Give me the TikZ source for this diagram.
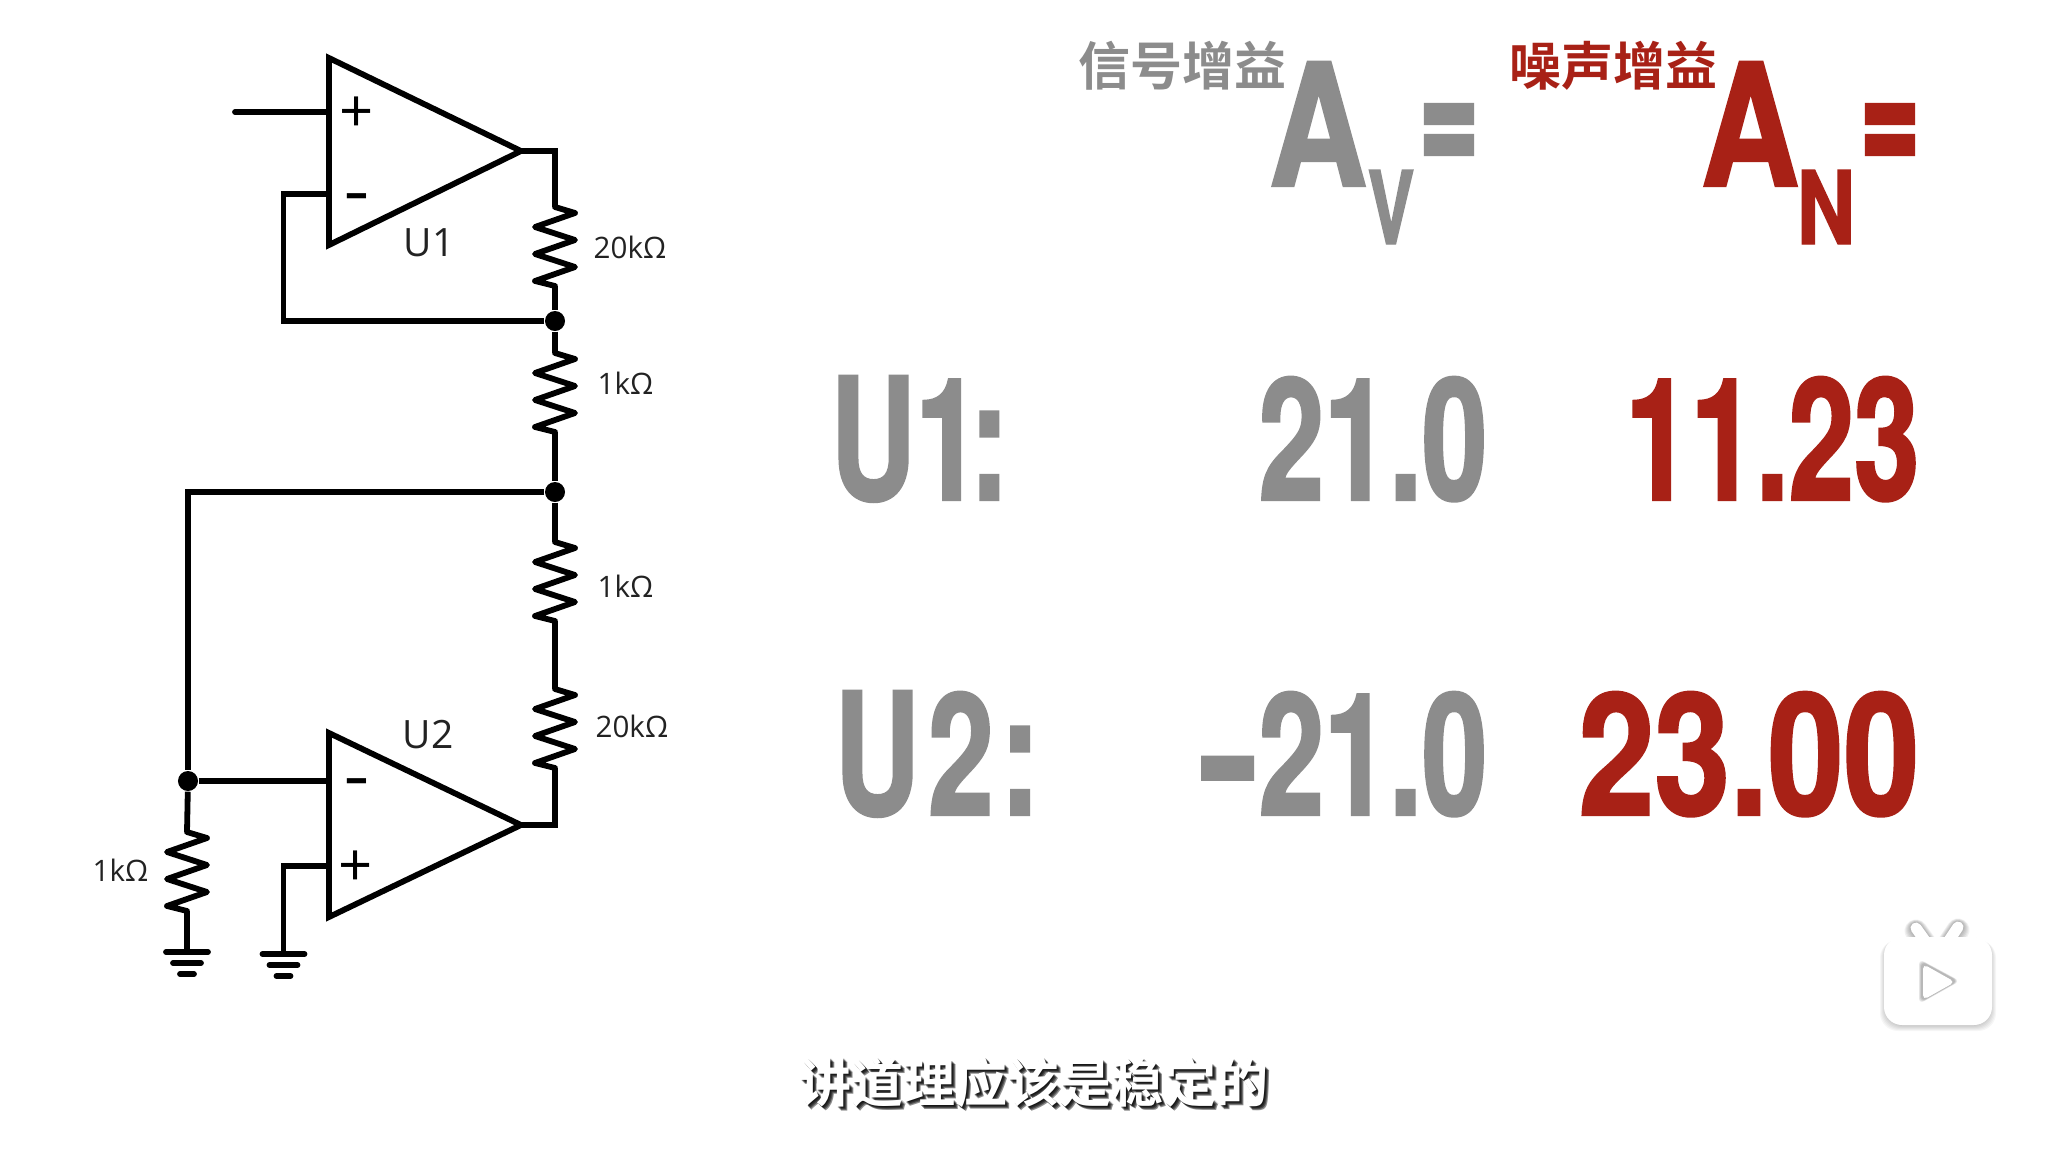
\documentclass[tikz,border=0pt]{standalone}
\usepackage{fontspec}
\usepackage{xcolor}
\setmainfont{Open Sans}
\newfontfamily\heavyfont{TeX Gyre Heros}[UprightFont=* Bold,FakeStretch=0.69,FakeBold=1.4]
\newfontfamily\wideheavy{TeX Gyre Heros}[UprightFont=* Bold,FakeStretch=0.8,FakeBold=1.4]
\newfontfamily\eqfont{TeX Gyre Heros}[UprightFont=* Bold,FakeStretch=0.57,FakeBold=3]
\newfontfamily\cjkfont{Noto Sans CJK SC}[UprightFont=* Bold]
\newfontfamily\subfont{Noto Sans CJK SC}[UprightFont=* Bold]
\definecolor{gaingrey}{HTML}{8C8C8C}
\definecolor{gainred}{HTML}{A82116}
\definecolor{inkdark}{HTML}{222222}
\newcommand{\zigzag}{-- ++(20,6) -- ++(-40,14) -- ++(40,13) -- ++(-40,14) -- ++(40,13) -- ++(-40,14) -- ++(20,5)}
\newcommand{\gnd}[1]{
 \draw [gndbar] ([shift={(-21,0)}]#1) -- ([shift={(21,0)}]#1);
 \draw [gndbar] ([shift={(-14,11)}]#1) -- ([shift={(14,11)}]#1);
 \draw [gndbar] ([shift={(-7,22)}]#1) -- ([shift={(7,22)}]#1);
}
\tikzset{
 wire/.style={line width=0.058cm,line join=miter},
 res/.style={line width=0.058cm,line join=round,line cap=round},
 gndbar/.style={line width=0.058cm,line cap=round},
 dot/.style={circle,fill=black,inner sep=0,minimum size=0.2cm},
 val/.style={inner sep=0,font=\fontsize{8.4}{10}\selectfont,text=inkdark,anchor=base west},
 unit/.style={inner sep=0,font=\fontsize{11.1}{13}\selectfont,text=inkdark},
 sign/.style={inner sep=0,font=\fontsize{17}{20}\selectfont},
 minussign/.style={inner sep=0,font=\bfseries\fontsize{13}{16}\selectfont},
 big/.style={inner sep=0,font=\heavyfont\fontsize{48.4}{50}\selectfont,anchor=base east},
 wide/.style={inner sep=0,font=\wideheavy\fontsize{48.4}{50}\selectfont,anchor=base east},
 eq/.style={inner sep=0,font=\eqfont\fontsize{48.4}{50}\selectfont,anchor=base east},
 small/.style={inner sep=0,font=\heavyfont\fontsize{28.8}{30}\selectfont,anchor=base west},
 head/.style={inner sep=0,font=\cjkfont\fontsize{14.8}{16}\selectfont,anchor=west},
 subt/.style={inner sep=0,anchor=west,font=\subfont\fontsize{14.8}{16}\selectfont},
}
\begin{document}
\begin{tikzpicture}[x=0.01cm,y=-0.01cm]
 \fill [white] (0,0) rectangle (2056,1154);
 \useasboundingbox (0,0) rectangle (2056,1154);
 \coordinate (u1a) at (329,58);
 \coordinate (u1b) at (329,245);
 \coordinate (u1t) at (521,151);
 \coordinate (u2a) at (329,733);
 \coordinate (u2b) at (329,917);
 \coordinate (u2t) at (521,825);
 \coordinate (in1) at (235,112);
 \coordinate (u1p) at (329,112);
 \coordinate (u1m) at (329,194);
 \coordinate (u2m) at (329,781);
 \coordinate (u2p) at (329,866);
 \coordinate (fb1) at (283.5,194);
 \coordinate (r1a) at (555,207);
 \coordinate (r1b) at (555,286);
 \coordinate (r2a) at (555,353);
 \coordinate (r2b) at (555,432);
 \coordinate (r3a) at (555,542);
 \coordinate (r3b) at (555,621);
 \coordinate (r4a) at (555,689);
 \coordinate (r4b) at (555,768);
 \coordinate (r5a) at (187,832);
 \coordinate (r5b) at (187,911);
 \coordinate (g1) at (187,952);
 \coordinate (g2) at (283.5,954);
 \node [dot] (n1) at (555,321) {};
 \node [dot] (n2) at (555,492) {};
 \node [dot] (n3) at (188,781) {};
 \draw [wire] (u1a) -- (u1t) -- (u1b) -- cycle;
 \draw [wire] (u2a) -- (u2t) -- (u2b) -- cycle;
 \draw [wire,line cap=round] (in1) -- (u1p);
 \draw [wire] (u1t) -| (r1a);
 \draw [res] (r1a) \zigzag;
 \draw [wire] (r1b) -- (n1);
 \draw [wire] (n1) -- (r2a);
 \draw [res] (r2a) \zigzag;
 \draw [wire] (r2b) -- (n2);
 \draw [wire] (n2) -- (r3a);
 \draw [res] (r3a) \zigzag;
 \draw [wire] (r3b) -- (r4a);
 \draw [res] (r4a) \zigzag;
 \draw [wire] (r4b) |- (u2t);
 \draw [wire] (n1) -| (fb1) -- (u1m);
 \draw [wire] (n2) -| (n3);
 \draw [wire] (n3) -- (u2m);
 \draw [wire] (n3) -- (r5a);
 \draw [res] (r5a) \zigzag;
 \draw [wire] (r5b) -- (g1);
 \draw [wire] (u2p) -| (g2);
 \gnd{g1}
 \gnd{g2}
 \node [sign] (s1) at (357,115) {+};
 \node [minussign] (s2) at (357,201) {–};
 \node [minussign] (s3) at (357,786) {–};
 \node [sign] (s4) at (356,869) {+};
 \node [unit] (l1) at (429,243) {U1};
 \node [unit] (l2) at (428,735) {U2};
 \node [val] (v1) at (593,258) {20kΩ};
 \node [val] (v2) at (597,394) {1kΩ};
 \node [val] (v3) at (597,597) {1kΩ};
 \node [val] (v4) at (595,737) {20kΩ};
 \node [val] (v5) at (92,881) {1kΩ};
 \node [head,text=gaingrey] (h1) at (1078,66) {信号增益};
 \node [head,text=gainred] (h2) at (1509,66) {噪声增益};
 \node [wide,text=gaingrey] (a1) at (1368,186) {A};
 \node [small,text=gaingrey] (a2) at (1367,244) {V};
 \node [eq,text=gaingrey] (e1) at (1478,172) {=};
 \node [wide,text=gainred] (b1) at (1800,186) {A};
 \node [small,font=\wideheavy\fontsize{28.8}{30}\selectfont,text=gainred] (b2) at (1796,244) {N};
 \node [eq,text=gainred] (e2) at (1919,172) {=};
 \node [big,anchor=base west,text=gaingrey] (t1) at (830,500) {U1\kern-3.2pt:};
 \node [big,text=gaingrey] (t2) at (1488,500) {21.0};
 \node [big,text=gainred] (t3) at (1920,500) {11.23};
 \node [big,anchor=base west,text=gaingrey] (t4) at (834,815) {U\kern2.5pt 2\kern2pt:};
 \node [big,text=gaingrey] (t5) at (1488,815) {\scalebox{1.55}[1]{-}21.0};
 \node [wide,text=gainred] (t6) at (1920,815) {23.00};
 \foreach \s in {1,...,6} {
  \fill [black,opacity=0.035,rounded corners=0.18cm] (1886-\s,937+\s/2) rectangle (1990+\s,1025+\s);
  \draw [black,opacity=0.05,line width=0.11cm+\s*0.02cm,line cap=round] (1926,942+\s/2) -- (1916,928+\s/2);
  \draw [black,opacity=0.05,line width=0.11cm+\s*0.02cm,line cap=round] (1948,942+\s/2) -- (1958,927+\s/2);
 }
 \fill [white,rounded corners=0.18cm] (1884,937) rectangle (1992,1025);
 \draw [white,line width=0.11cm,line cap=round] (1926,942) -- (1916,928);
 \draw [white,line width=0.11cm,line cap=round] (1948,942) -- (1958,927);
 \foreach \s in {0,1,2}
  \fill [black,opacity=0.1,rounded corners=0.06cm] (1921-\s,961-\s) -- (1921-\s,1002+\s) -- (1958+\s,981) -- cycle;
 \fill [white,rounded corners=0.05cm] (1923,964) -- (1923,1000) -- (1955,982) -- cycle;
 \foreach \s in {1,2,3,4}
  \node [subt,text=black,opacity=0.45] at (799+\s,1083+\s) {讲道理应该是稳定的};
 \node [subt,text=white] (cap) at (799,1083) {讲道理应该是稳定的};
\end{tikzpicture}
\end{document}
